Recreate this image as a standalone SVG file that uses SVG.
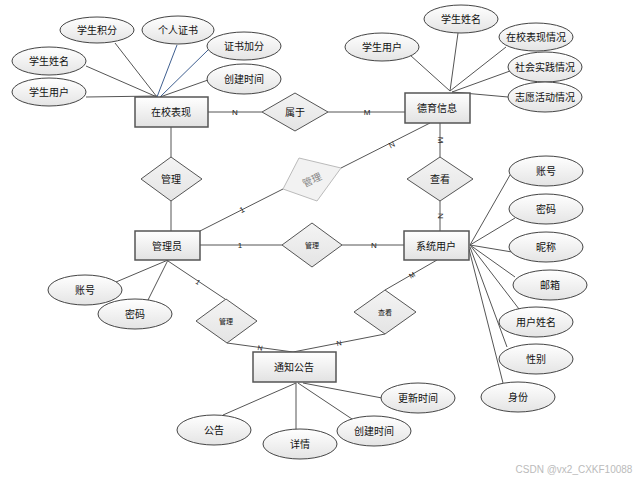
<svg xmlns="http://www.w3.org/2000/svg" width="644" height="480" viewBox="0 0 644 480">
<defs>
<linearGradient id="gE" x1="0" y1="0" x2="0" y2="1"><stop offset="0" stop-color="#ffffff"/><stop offset="1" stop-color="#e4e4e4"/></linearGradient>
<linearGradient id="gR" x1="0" y1="0" x2="0" y2="1"><stop offset="0" stop-color="#ffffff"/><stop offset="1" stop-color="#e2e2e2"/></linearGradient>
<linearGradient id="gD" x1="0" y1="0" x2="0" y2="1"><stop offset="0" stop-color="#f4f4f4"/><stop offset="1" stop-color="#e4e4e4"/></linearGradient>
</defs>
<style>
text{font-family:"Liberation Sans","Noto Sans CJK SC",sans-serif;font-size:10px;fill:#111;text-anchor:middle;dominant-baseline:central}
.e{fill:url(#gE);stroke:#444;stroke-width:1}
.r{fill:url(#gR);stroke:#555;stroke-width:1.5}
.d{fill:url(#gD);stroke:#555;stroke-width:1}
.c line{stroke:#555;stroke-width:1}
.c .b{stroke:#3f5f90}
.lbl{font-size:8px;fill:#222}
.sm{font-size:7px}
</style>
<rect width="644" height="480" fill="#fff"/>
<g class="c" id="connectors">
<line x1="115" y1="43" x2="157" y2="97"/>
<line class="b" x1="177" y1="45" x2="157" y2="97"/>
<line class="b" x1="208" y1="50" x2="160" y2="97"/>
<line x1="86" y1="66" x2="157" y2="97"/>
<line x1="86" y1="97" x2="157" y2="96"/>
<line x1="208" y1="80" x2="160" y2="97"/>
<line x1="410" y1="55" x2="450" y2="91"/>
<line x1="458" y1="33" x2="450" y2="91"/>
<line x1="506" y1="47" x2="450" y2="91"/>
<line x1="510" y1="71" x2="452" y2="92"/>
<line x1="508" y1="97" x2="452" y2="92"/>
<line x1="510" y1="175" x2="470" y2="245"/>
<line x1="515" y1="218" x2="470" y2="245"/>
<line x1="512" y1="252" x2="470" y2="245"/>
<line x1="515" y1="277" x2="470" y2="245"/>
<line x1="519" y1="309" x2="470" y2="245"/>
<line x1="507" y1="347" x2="470" y2="247"/>
<line x1="503" y1="383" x2="469" y2="249"/>
<line x1="168" y1="260" x2="116" y2="282"/>
<line x1="168" y1="260" x2="148" y2="300"/>
<line x1="223" y1="415" x2="296" y2="383"/>
<line x1="296" y1="383" x2="296" y2="430"/>
<line x1="298" y1="383" x2="352" y2="419"/>
<line x1="303" y1="383" x2="382" y2="398"/>
<line x1="208" y1="112" x2="262" y2="112"/>
<line x1="328" y1="112" x2="405" y2="112"/>
<line x1="171" y1="127" x2="171" y2="157"/>
<line x1="171" y1="201" x2="171" y2="231"/>
<line x1="200" y1="231" x2="283" y2="189"/>
<line x1="341" y1="168" x2="430" y2="123"/>
<line x1="440" y1="123" x2="440" y2="157"/>
<line x1="440" y1="201" x2="440" y2="231"/>
<line x1="200" y1="245" x2="282" y2="245"/>
<line x1="342" y1="245" x2="404" y2="245"/>
<line x1="168" y1="261" x2="225" y2="299"/>
<line x1="227" y1="343" x2="293" y2="352"/>
<line x1="437" y1="260" x2="385" y2="290"/>
<line x1="385" y1="334" x2="293" y2="352"/>
<text class="lbl" x="235" y="112">N</text>
<text class="lbl" x="367" y="112">M</text>
<text class="lbl" x="242" y="210" transform="rotate(-27 242 210)">1</text>
<text class="lbl" x="392" y="145" transform="rotate(-27 392 145)">N</text>
<text class="lbl" x="440" y="140" transform="rotate(90 440 140)">M</text>
<text class="lbl" x="440" y="216" transform="rotate(90 440 216)">N</text>
<text class="lbl" x="240" y="245">1</text>
<text class="lbl" x="374" y="245">N</text>
<text class="lbl sm" x="198" y="282" transform="rotate(34 198 282)">1</text>
<text class="lbl sm" x="260" y="348" transform="rotate(8 260 348)">N</text>
<text class="lbl sm" x="412" y="275" transform="rotate(-30 412 275)">M</text>
<text class="lbl sm" x="339" y="343" transform="rotate(-11 339 343)">N</text>
</g>
<g id="zaixiaobiaoxian"><rect class="r" x="135" y="97" width="73" height="30"/><text x="171" y="112">在校表现</text></g>
<g id="deyuxinxi"><rect class="r" x="405" y="93" width="65" height="30"/><text x="437" y="108">德育信息</text></g>
<g id="guanliyuan"><rect class="r" x="135" y="231" width="65" height="29"/><text x="167" y="246">管理员</text></g>
<g id="xitongyonghu"><rect class="r" x="404" y="231" width="65" height="29"/><text x="436" y="246">系统用户</text></g>
<g id="tongzhigonggao"><rect class="r" x="253" y="352" width="83" height="30"/><text x="294" y="367">通知公告</text></g>
<g id="shuyu"><polygon class="d" points="262,112 295,93 328,112 295,131"/><text x="295" y="112">属于</text></g>
<g id="guanli1"><polygon class="d" points="141,179 171,157 202,179 171,201"/><text x="171" y="179">管理</text></g>
<g id="guanli2"><polygon points="299,158 341,168 317,201 283,189" fill="#f2f2f2" stroke="#bbb" stroke-width="1"/><text x="312" y="180" fill="#888" style="fill:#888" transform="rotate(-25 312 180)">管理</text></g>
<g id="chakan1"><polygon class="d" points="407,179 440,157 473,179 440,201"/><text x="440" y="179">查看</text></g>
<g id="guanli3"><polygon class="d" points="282,245 312,223 342,245 312,267"/><text class="sm" x="312" y="245">管理</text></g>
<g id="guanli4"><polygon class="d" points="196,321 226,299 257,321 227,343"/><text class="sm" x="226" y="321">管理</text></g>
<g id="chakan2"><polygon class="d" points="354,312 385,290 416,312 385,334"/><text class="sm" x="385" y="312">查看</text></g>
<g id="a1"><ellipse class="e" cx="97" cy="30" rx="37" ry="13"/><text x="97" y="30">学生积分</text></g>
<g id="a2"><ellipse class="e" cx="178" cy="30" rx="36" ry="14"/><text x="178" y="30">个人证书</text></g>
<g id="a3"><ellipse class="e" cx="244" cy="46" rx="37" ry="14"/><text x="244" y="46">证书加分</text></g>
<g id="a4"><ellipse class="e" cx="49" cy="61" rx="37" ry="14"/><text x="49" y="61">学生姓名</text></g>
<g id="a5"><ellipse class="e" cx="49" cy="92" rx="37" ry="14"/><text x="49" y="92">学生用户</text></g>
<g id="a6"><ellipse class="e" cx="244" cy="79" rx="37" ry="15"/><text x="244" y="79">创建时间</text></g>
<g id="b1"><ellipse class="e" cx="461" cy="19" rx="37" ry="14"/><text x="461" y="19">学生姓名</text></g>
<g id="b2"><ellipse class="e" cx="382" cy="47" rx="37" ry="14"/><text x="382" y="47">学生用户</text></g>
<g id="b3"><ellipse class="e" cx="536" cy="37" rx="37" ry="14"/><text x="536" y="37">在校表现情况</text></g>
<g id="b4"><ellipse class="e" cx="545" cy="67" rx="37" ry="15"/><text x="545" y="67">社会实践情况</text></g>
<g id="b5"><ellipse class="e" cx="545" cy="97" rx="37" ry="15"/><text x="545" y="97">志愿活动情况</text></g>
<g id="c1"><ellipse class="e" cx="546" cy="171" rx="37" ry="15"/><text x="546" y="171">账号</text></g>
<g id="c2"><ellipse class="e" cx="546" cy="209" rx="37" ry="15"/><text x="546" y="209">密码</text></g>
<g id="c3"><ellipse class="e" cx="546" cy="247" rx="37" ry="15"/><text x="546" y="247">昵称</text></g>
<g id="c4"><ellipse class="e" cx="550" cy="285" rx="37" ry="15"/><text x="550" y="285">邮箱</text></g>
<g id="c5"><ellipse class="e" cx="536" cy="322" rx="37" ry="15"/><text x="536" y="322">用户姓名</text></g>
<g id="c6"><ellipse class="e" cx="536" cy="359" rx="37" ry="15"/><text x="536" y="359">性别</text></g>
<g id="c7"><ellipse class="e" cx="518" cy="397" rx="37" ry="15"/><text x="518" y="397">身份</text></g>
<g id="d1"><ellipse class="e" cx="85" cy="290" rx="37" ry="15"/><text x="85" y="290">账号</text></g>
<g id="d2"><ellipse class="e" cx="135" cy="314" rx="37" ry="15"/><text x="135" y="314">密码</text></g>
<g id="e1"><ellipse class="e" cx="214" cy="430" rx="37" ry="15"/><text x="214" y="430">公告</text></g>
<g id="e2"><ellipse class="e" cx="300" cy="444" rx="37" ry="15"/><text x="300" y="444">详情</text></g>
<g id="e3"><ellipse class="e" cx="374" cy="431" rx="37" ry="15"/><text x="374" y="431">创建时间</text></g>
<g id="e4"><ellipse class="e" cx="418" cy="398" rx="37" ry="15"/><text x="418" y="398">更新时间</text></g>
<text x="574" y="469" style="font-size:10px;fill:#bbb">CSDN @vx2_CXKF10088</text>
</svg>
